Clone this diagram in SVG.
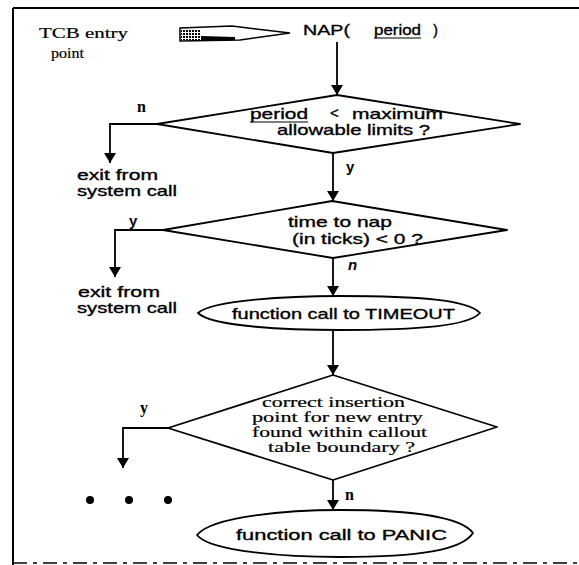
<svg xmlns="http://www.w3.org/2000/svg" width="579" height="565" viewBox="0 0 579 565">
  <style>
    .ln { fill: none; stroke: #000; stroke-width: 1.8; }
    .shape { fill: #fff; stroke: #000; stroke-width: 1.8; stroke-linejoin: round; }
    .sans { font-family: "Liberation Sans", Arial, sans-serif; font-size: 15px; fill: #000; stroke: #000; stroke-width: 0.35; }
    .serif { font-family: "Liberation Serif", "Times New Roman", serif; font-size: 14.5px; fill: #000; stroke: #000; stroke-width: 0.2; }
    .lbl { font-family: "Liberation Sans", Arial, sans-serif; font-size: 15px; font-weight: bold; fill: #000; }
    .lbls { font-family: "Liberation Serif", "Times New Roman", serif; font-size: 16px; font-weight: bold; fill: #000; }
  </style>
  <defs>
    <marker id="head" viewBox="0 0 10 16" refX="10" refY="8" markerWidth="10" markerHeight="16" markerUnits="userSpaceOnUse" orient="auto">
      <path d="M0,2 L10,8 L0,14 Z" fill="#000"/>
    </marker>
    <pattern id="stipple" width="3" height="3" patternUnits="userSpaceOnUse">
      <rect width="3" height="3" fill="#fff"/>
      <rect width="2" height="2" fill="#000"/>
    </pattern>
  </defs>

  <!-- page frame -->
  <g id="frame">
    <line x1="13" y1="8" x2="579" y2="8" stroke="#000" stroke-width="2"/>
    <line x1="13" y1="8" x2="13" y2="565" stroke="#000" stroke-width="2"/>
    <line x1="13" y1="563" x2="579" y2="563" stroke="#000" stroke-width="1.5" stroke-dasharray="14 6 4 6"/>
  </g>

  <!-- entry point -->
  <g id="entry">
    <text class="serif" x="39" y="38" font-size="17" textLength="89" lengthAdjust="spacingAndGlyphs">TCB entry</text>
    <text class="serif" x="51" y="58" font-size="17" textLength="33" lengthAdjust="spacingAndGlyphs">point</text>
    <path d="M180,28 L232,26 L290,33 L240,40 L180,41 Z" fill="#fff" stroke="#000" stroke-width="1.5"/>
    <rect x="181" y="29" width="20" height="11" fill="url(#stipple)"/>
    <path d="M201,36 L235,37 L235,40 L201,41 Z" fill="#000"/>
  </g>

  <g id="nap">
    <text class="sans" x="303" y="35" font-size="17" textLength="47" lengthAdjust="spacingAndGlyphs">NAP(</text>
    <text class="sans" x="374" y="35" font-size="17" textLength="47" lengthAdjust="spacingAndGlyphs">period</text>
    <line x1="374" y1="38" x2="421" y2="38" stroke="#000" stroke-width="1.2"/>
    <text class="sans" x="433" y="35" font-size="17">)</text>
  </g>

  <!-- decision: period range -->
  <g id="d1">
    <polygon class="shape" points="337,95 520,124 333,153 157,124"/>
    <text class="sans" x="250" y="119" font-size="15.5" textLength="58" lengthAdjust="spacingAndGlyphs">period</text>
    <line x1="250" y1="122" x2="308" y2="122" stroke="#000" stroke-width="1.2"/>
    <text class="sans" x="330" y="118" font-size="14">&lt;</text>
    <text class="sans" x="352" y="119" font-size="15.5" textLength="91" lengthAdjust="spacingAndGlyphs">maximum</text>
    <text class="sans" x="277" y="135" font-size="15.5" textLength="153" lengthAdjust="spacingAndGlyphs">allowable limits ?</text>
  </g>

  <g id="exit1">
    <text class="sans" x="77" y="180" font-size="14.5" textLength="81" lengthAdjust="spacingAndGlyphs">exit from</text>
    <text class="sans" x="77" y="196" font-size="14.5" textLength="100" lengthAdjust="spacingAndGlyphs">system call</text>
  </g>

  <!-- decision: nap time -->
  <g id="d2">
    <polygon class="shape" points="332,201 507,230 333,258 163,230"/>
    <text class="sans" x="288" y="227" font-size="16" textLength="104" lengthAdjust="spacingAndGlyphs">time to nap</text>
    <text class="sans" x="292" y="244" font-size="16" textLength="131" lengthAdjust="spacingAndGlyphs">(in ticks) &lt; 0 ?</text>
  </g>

  <g id="exit2">
    <text class="sans" x="78" y="297" font-size="14.5" textLength="82" lengthAdjust="spacingAndGlyphs">exit from</text>
    <text class="sans" x="77" y="313" font-size="14.5" textLength="100" lengthAdjust="spacingAndGlyphs">system call</text>
  </g>

  <g id="timeout">
    <path class="shape" d="M198,313 C212,300 290,296 340,296 C420,296 468,300 480,313 C468,326 420,330 340,330 C290,330 212,327 198,313 Z"/>
    <text class="sans" x="232" y="319" font-size="17" textLength="223" lengthAdjust="spacingAndGlyphs">function call to TIMEOUT</text>
  </g>

  <!-- decision: callout table slot -->
  <g id="d3">
    <polygon class="shape" points="333,375 497,427 333,480 168,428"/>
    <text class="serif" x="262" y="407" textLength="143" lengthAdjust="spacingAndGlyphs">correct insertion</text>
    <text class="serif" x="252" y="422" textLength="171" lengthAdjust="spacingAndGlyphs">point for new entry</text>
    <text class="serif" x="252" y="437" textLength="175" lengthAdjust="spacingAndGlyphs">found within callout</text>
    <text class="serif" x="268" y="452" textLength="147" lengthAdjust="spacingAndGlyphs">table boundary ?</text>
  </g>

  <g id="more">
    <circle cx="90" cy="500" r="4"/>
    <circle cx="129" cy="500" r="4"/>
    <circle cx="168" cy="500" r="4"/>
  </g>

  <g id="panic">
    <path class="shape" d="M197,535 C212,516 290,510 340,510 C420,510 462,518 473,533 C462,550 420,557 340,557 C290,557 210,552 197,535 Z"/>
    <text class="sans" x="236" y="540" font-size="18" textLength="211" lengthAdjust="spacingAndGlyphs">function call to PANIC</text>
  </g>

  <!-- connectors -->
  <g id="connectors">
    <line class="ln" x1="337" y1="42" x2="337" y2="95" marker-end="url(#head)"/>
    <polyline class="ln" points="157,124 110,124 110,163" marker-end="url(#head)"/>
    <line class="ln" x1="333" y1="153" x2="333" y2="201" marker-end="url(#head)"/>
    <polyline class="ln" points="163,230 115,230 115,277" marker-end="url(#head)"/>
    <line class="ln" x1="333" y1="258" x2="333" y2="296" marker-end="url(#head)"/>
    <line class="ln" x1="333" y1="330" x2="333" y2="375" marker-end="url(#head)"/>
    <polyline class="ln" points="168,428 123,428 123,468" marker-end="url(#head)"/>
    <line class="ln" x1="333" y1="480" x2="333" y2="510" marker-end="url(#head)"/>
    <text class="lbls" x="137" y="112">n</text>
    <text class="lbl" x="346" y="172">y</text>
    <text class="lbl" x="129" y="226">y</text>
    <text class="lbl" x="348" y="270" font-style="italic">n</text>
    <text class="lbls" x="140" y="413">y</text>
    <text class="lbls" x="345" y="500">n</text>
  </g>
</svg>
